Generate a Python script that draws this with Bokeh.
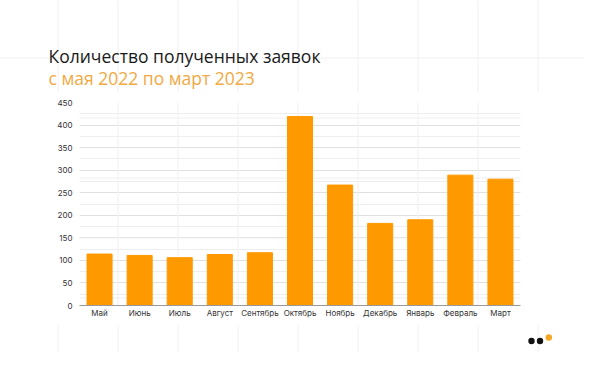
from bokeh.plotting import figure
from bokeh.layouts import column
from bokeh.models import Range1d, SingleIntervalTicker, BoxAnnotation
from bokeh.core.properties import value
from bokeh.embed import file_html
from bokeh.resources import INLINE

months = ["Май", "Июнь", "Июль", "Август", "Сентябрь", "Октябрь",
          "Ноябрь", "Декабрь", "Январь", "Февраль", "Март"]
requests = [114, 111, 106, 113, 117, 419, 267, 182, 190, 289, 280]
title_text = "Количество полученных заявок"
subtitle_text = "с мая 2022 по март 2023"

BAR = "#FF9900"
SUB = "#F2A942"
PAGE_GRID = "#f0f0f0"
W = 584
TOP_H = 92
CHART_H = 233
BOT_H = 27
grid_x = [57.5 + 60 * k for k in range(10)]


def blank(h, y0):
    f = figure(width=W, height=h, x_range=Range1d(0, W),
               y_range=Range1d(y0 + h, y0), output_backend="svg",
               toolbar_location=None, min_border=0, frame_align=False)
    f.title.visible = False
    f.axis.visible = False
    f.grid.visible = False
    f.outline_line_color = None
    f.background_fill_color = "white"
    f.border_fill_color = "white"
    f.segment(x0=grid_x, x1=grid_x, y0=[y0] * len(grid_x),
              y1=[y0 + h] * len(grid_x), line_color=PAGE_GRID, line_width=1)
    return f


# ---- header ----
top = blank(TOP_H, 0)
top.segment(x0=[0], x1=[W], y0=[57.5], y1=[57.5], line_color=PAGE_GRID,
            line_width=1)
top.text(x=[48], y=[55], text=[title_text], text_font=value("Open Sans"),
         text_font_size="17.5px", text_color="#1a1a1a",
         text_baseline="alphabetic")
top.text(x=[48], y=[77.7], text=[subtitle_text], text_font=value("Open Sans"),
         text_font_size="17.5px", text_color=SUB, text_baseline="alphabetic")

# ---- chart ----
p = figure(x_range=months, y_range=Range1d(0, 450), width=W, height=CHART_H,
           output_backend="svg", toolbar_location=None,
           min_border_left=79, min_border_right=64, min_border_top=10,
           min_border_bottom=20, frame_align=False)
p.title.visible = False
p.outline_line_color = None
p.background_fill_color = "white"
p.border_fill_color = "white"

for X in grid_x:
    fx = X - 0.5 - 79
    if 0 < fx < 441:
        p.add_layout(BoxAnnotation(left=fx, right=fx + 1, bottom=-5, top=210,
                                   left_units="screen", right_units="screen",
                                   bottom_units="screen", top_units="screen",
                                   fill_color=PAGE_GRID, fill_alpha=1,
                                   line_color=None, level="underlay"))
for Y in [117, 177, 237, 297]:
    fy = 305 - Y
    p.add_layout(BoxAnnotation(left=-5, right=450, bottom=fy - 1, top=fy,
                               left_units="screen", right_units="screen",
                               bottom_units="screen", top_units="screen",
                               fill_color=PAGE_GRID, fill_alpha=1,
                               line_color=None, level="underlay"))

p.vbar(x=months, top=requests, width=0.625, color=BAR)

p.xgrid.grid_line_color = None
p.yaxis.ticker = SingleIntervalTicker(interval=50, num_minor_ticks=2)
p.ygrid.grid_line_color = "#e0e0e0"
p.ygrid.minor_grid_line_color = "#eeeeee"

for ax in (p.xaxis[0], p.yaxis[0]):
    ax.major_tick_line_color = None
    ax.minor_tick_line_color = None
    ax.major_tick_out = 0
    ax.major_tick_in = 0
    ax.minor_tick_out = 0
    ax.minor_tick_in = 0
    ax.major_label_text_font = "Inter"
    ax.major_label_text_font_size = "8px"
    ax.major_label_text_color = "#333333"

p.xaxis.axis_line_color = "#9a9a9a"
p.xaxis.major_label_standoff = 2
p.yaxis.axis_line_color = None
p.yaxis.major_label_standoff = 7

bot = blank(BOT_H, 325)
logo_x = [531, 539.5, 548.3]
logo_y = [340.5, 340.5, 337]
logo_c = ["#111111", "#111111", "#F5A623"]
bot.scatter(x=logo_x, y=logo_y, size=6.4, fill_color=logo_c, line_color=None)

layout = column(top, p, bot, spacing=0)
open("out.html", "w").write(file_html(layout, INLINE))
